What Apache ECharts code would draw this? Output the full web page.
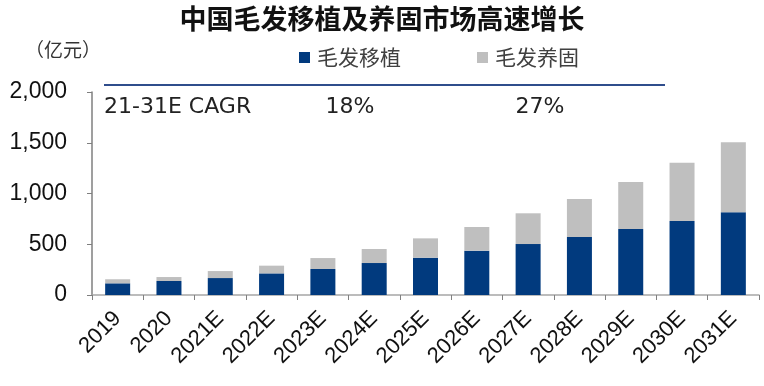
<!DOCTYPE html>
<html>
<head>
<meta charset="utf-8">
<script src="https://cdn.jsdelivr.net/npm/echarts@6/dist/echarts.min.js"></script>
<style>
html,body{margin:0;padding:0;background:#fff;}
#main{width:764px;height:386px;}
</style>
</head>
<body>
<div id="main"></div>
<script>
const titleText = '中国毛发移植及养固市场高速增长';
const unitText = '（亿元）';
const categories = ['2019','2020','2021E','2022E','2023E','2024E','2025E','2026E','2027E','2028E','2029E','2030E','2031E'];
const seriesNames = ['毛发移植','毛发养固'];
const transplant = [115,138,167,213,256,315,368,437,502,571,650,729,815];
const care = [40,39,69,76,108,138,190,233,303,375,463,575,689];
const yMin = 0, yMax = 2000, yInterval = 500;
const cagrLabel = '21-31E CAGR';
const cagrValues = ['18%','27%'];

const chart = echarts.init(document.getElementById('main'));
const num = v => v.toLocaleString('en-US');
chart.setOption({
  animation: false,
  backgroundColor: '#fff',
  title: {
    text: titleText,
    left: 'center',
    top: 5,
    padding: 0,
    textStyle: {fontFamily: 'Noto Sans CJK SC', fontSize: 27, fontWeight: 'bold', color: '#111'}
  },
  legend: {
    data: seriesNames,
    left: 299,
    top: 47,
    padding: 0,
    itemWidth: 11,
    itemHeight: 11,
    itemGap: 76,
    icon: 'rect',
    textStyle: {fontFamily: 'Noto Sans CJK SC', fontSize: 21, color: '#404040', padding: [0,0,0,2]}
  },
  grid: {left: 92, right: 5, top: 92, bottom: 91, containLabel: false},
  xAxis: {
    type: 'category',
    data: categories,
    boundaryGap: true,
    axisLine: {lineStyle: {color: '#a6a6a6', width: 1.5}},
    axisTick: {show: true, length: 5, inside: false, lineStyle: {color: '#808080'}},
    axisLabel: {rotate: 45, margin: 20, fontFamily: 'Liberation Sans', fontSize: 22, color: '#111', interval: 0}
  },
  yAxis: {
    type: 'value',
    min: yMin, max: yMax, interval: yInterval,
    splitLine: {show: false},
    axisLine: {show: true, lineStyle: {color: '#7f7f7f', width: 1.5}},
    axisTick: {show: true, length: 5, lineStyle: {color: '#7f7f7f'}},
    axisLabel: {margin: 25, fontFamily: 'Liberation Sans', fontSize: 23, color: '#111', formatter: num}
  },
  series: [
    {name: seriesNames[0], type: 'bar', stack: 'total', data: transplant, barWidth: 25, itemStyle: {color: '#013A7E'}},
    {name: seriesNames[1], type: 'bar', stack: 'total', data: care, barWidth: 25, itemStyle: {color: '#BFBFBF'}}
  ],
  graphic: [
    {type: 'text', left: 25, top: 40, style: {text: unitText, fontFamily: 'Noto Sans CJK SC', fontSize: 19, fill: '#333'}},
    {type: 'line', shape: {x1: 104, y1: 85, x2: 665, y2: 85}, style: {stroke: '#2F4D8C', lineWidth: 2}},
    {type: 'text', x: 104, y: 107, style: {text: cagrLabel, fontFamily: 'DejaVu Sans', fontSize: 22, fill: '#222', verticalAlign: 'middle'}},
    {type: 'text', x: 350, y: 107, style: {text: cagrValues[0], fontFamily: 'DejaVu Sans', fontSize: 22, fill: '#222', align: 'center', verticalAlign: 'middle'}},
    {type: 'text', x: 540, y: 107, style: {text: cagrValues[1], fontFamily: 'DejaVu Sans', fontSize: 22, fill: '#222', align: 'center', verticalAlign: 'middle'}}
  ]
});
</script>
</body>
</html>
